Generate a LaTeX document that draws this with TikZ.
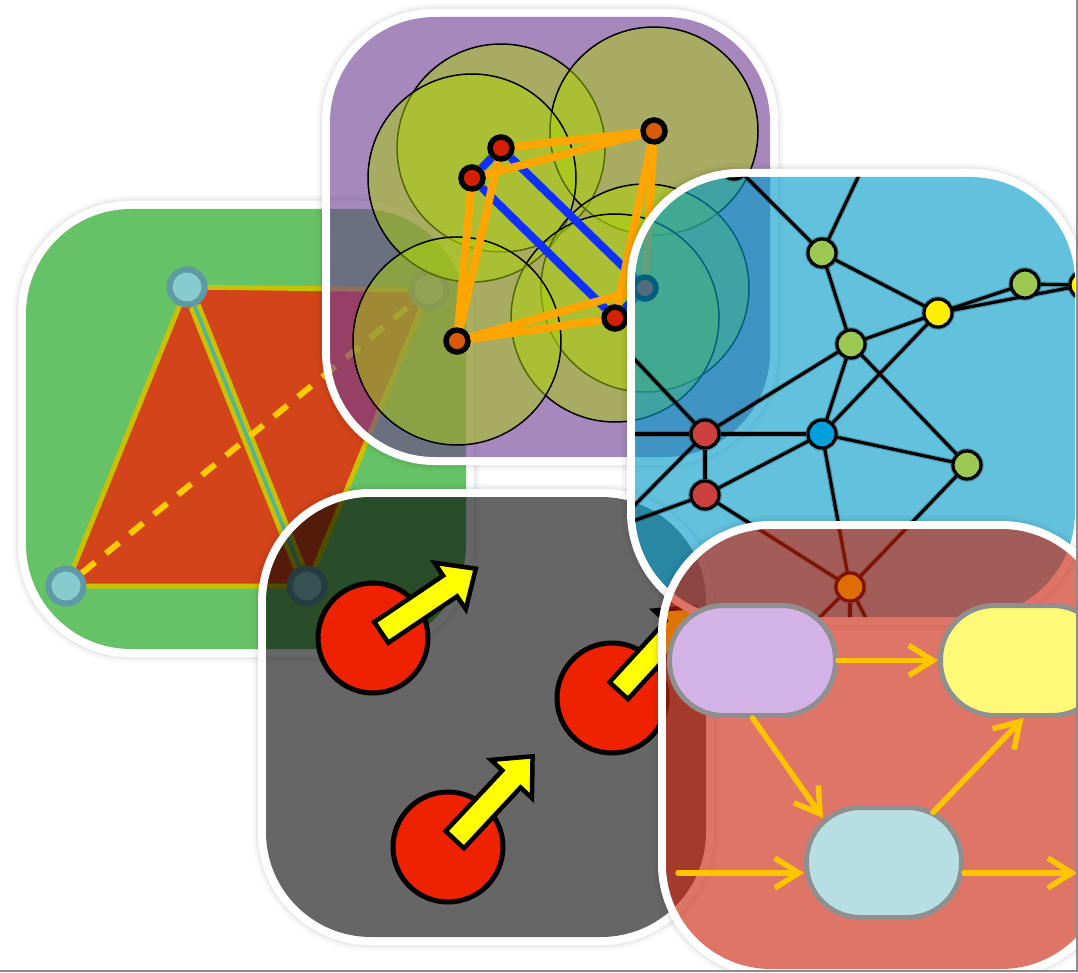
\documentclass[tikz,border=0pt]{standalone}
\usetikzlibrary{arrows.meta,calc}
\definecolor{gfill}{RGB}{102,194,102}
\definecolor{gpoly}{RGB}{212,68,26}
\definecolor{gpolyline}{RGB}{200,192,0}
\definecolor{gdash}{RGB}{255,204,0}
\definecolor{gnodefill}{RGB}{135,203,207}
\definecolor{gnodeborder}{RGB}{94,154,164}
\definecolor{gteal}{RGB}{79,181,154}
\definecolor{pfill}{RGB}{111,63,147}
\definecolor{pcirc}{RGB}{172,210,8}
\definecolor{pred}{RGB}{212,32,0}
\definecolor{porange}{RGB}{217,90,10}
\definecolor{pblue}{RGB}{16,48,255}
\definecolor{pedge}{RGB}{255,165,0}
\definecolor{bfill}{RGB}{2,156,202}
\definecolor{vgreen}{RGB}{155,200,80}
\definecolor{vyellow}{RGB}{255,238,0}
\definecolor{vred}{RGB}{204,64,64}
\definecolor{vblue}{RGB}{0,160,220}
\definecolor{rfill}{RGB}{203,32,8}
\definecolor{stP}{RGB}{211,179,230}
\definecolor{stY}{RGB}{255,249,120}
\definecolor{stC}{RGB}{183,223,227}
\definecolor{stborder}{RGB}{143,143,143}
\definecolor{flowcol}{RGB}{255,198,0}
\definecolor{ballred}{RGB}{238,34,0}
\definecolor{arrowyellow}{RGB}{255,255,0}
\definecolor{framecol}{RGB}{140,140,140}

\newcommand\tileback[5]{%
  \draw[black, opacity=0.02, line width=2pt, rounded corners=118pt] (#1-13,#2-13) rectangle (#3+13,#4+13);
  \draw[black, opacity=0.04, line width=2pt, rounded corners=116pt] (#1-11,#2-11) rectangle (#3+11,#4+11);
  \draw[black, opacity=0.08, line width=2pt, rounded corners=114pt] (#1-9,#2-9) rectangle (#3+9,#4+9);
  \draw[white, line width=8pt, rounded corners=109pt] (#1-4,#2-4) rectangle (#3+4,#4+4);
  \fill[#5, rounded corners=105pt] (#1,#2) rectangle (#3,#4);
}
\newcommand\tileclip[4]{\clip[rounded corners=105pt] (#1,#2) rectangle (#3,#4);}
\newcommand\blockarrow[3]{%
  \begin{scope}[shift={(#1,#2)}, rotate=#3]
    \draw[blockarr] (10,-12.5) -- (93,-12.5) -- (93,-28) -- (124,0) -- (93,28) -- (93,12.5) -- (10,12.5) -- cycle;
  \end{scope}}

\begin{document}
\begin{tikzpicture}[x=1pt, y=-1pt,
  gnode/.style={circle, minimum size=35pt, inner sep=0pt, fill=gnodefill, draw=gnodeborder, line width=6pt},
  pnode/.style={circle, minimum size=22pt, inner sep=0pt, draw=black, line width=5.5pt},
  pcircle/.style={fill=pcirc, fill opacity=0.5, draw=black, line width=1.5pt},
  bedge/.style={draw=pblue, line width=8pt},
  oedge/.style={draw=pedge, line width=8pt},
  vnode/.style={circle, minimum size=28pt, inner sep=0pt, draw=black, line width=3.2pt,
    preaction={draw=black, draw opacity=0.25, line width=5.5pt}},
  gedge/.style={draw=black, line width=3.2pt,
    preaction={draw=black, draw opacity=0.2, line width=5.5pt}},
  ball/.style={circle, minimum size=110pt, inner sep=0pt, fill=ballred, draw=black, line width=5pt},
  blockarr/.style={fill=arrowyellow, draw=black, line width=4.5pt, line join=miter},
  stbox/.style={rectangle, rounded corners=54pt, minimum height=110pt, inner sep=0pt, draw=stborder, line width=5pt},
  flow/.style={draw=flowcol, line width=5.5pt, line cap=round, -{Straight Barb[length=24pt,width=30pt]}}
]
\useasboundingbox (0,0) rectangle (1078,973);
\begin{scope}
\clip (0,0) rectangle (1077,971);

% ---------------- green tile ----------------
\tileback{26}{209}{466}{649}{gfill}
\begin{scope}
  \tileclip{26}{209}{466}{649}
  \coordinate (gpa) at (187,287);
  \coordinate (gpb) at (66,586);
  \coordinate (gpc) at (307,586);
  \coordinate (gpd) at (429,290);
  \filldraw[fill=gpoly, draw=gpolyline, line width=5pt, line join=round] (gpb) -- (gpa) -- (gpd) -- (gpc) -- cycle;
  \node[gnode] (ga) at (gpa) {};
  \node[gnode] (gb) at (gpb) {};
  \node[gnode] (gc) at (gpc) {};
  \node[gnode] (gd) at (gpd) {};
  \draw[gpolyline, line width=4.5pt, double=gteal, double distance=3.5pt] (ga) -- (gc);
  \draw[gdash, line width=6pt, dash pattern=on 17pt off 14pt] (gb) -- (gd);
\end{scope}

% ---------------- purple tile ----------------
\tileback{330}{17}{770}{457}{pfill, fill opacity=0.62}
\begin{scope}
  \tileclip{330}{17}{770}{457}
  \coordinate (pc1) at (501,148);
  \coordinate (pc2) at (472,178);
  \coordinate (pc3) at (654,131);
  \coordinate (pc4) at (457,341);
  \coordinate (pc5) at (615,318);
  \coordinate (pc6) at (645,288);
  \filldraw[pcircle] (pc1) circle (104pt);
  \filldraw[pcircle] (pc3) circle (104pt);
  \filldraw[pcircle] (pc2) circle (104pt);
  \filldraw[pcircle] (pc6) circle (104pt);
  \filldraw[pcircle] (pc5) circle (104pt);
  \filldraw[pcircle] (pc4) circle (104pt);
  \node[pnode, fill=pred] (pn1) at (pc1) {};
  \node[pnode, fill=pred] (pn2) at (pc2) {};
  \node[pnode, fill=porange] (pn3) at (pc3) {};
  \node[pnode, fill=porange] (pn4) at (pc4) {};
  \node[pnode, fill=pred] (pn5) at (pc5) {};
  \node[pnode, fill=pred] (pn6) at (pc6) {};
  \draw[bedge] (pn1) -- (pn2);
  \draw[bedge] (pn1) -- (pn6);
  \draw[bedge] (pn2) -- (pn5);
  \draw[bedge] (pn5) -- (pn6);
  \draw[oedge] (pn1) -- (pn3);
  \draw[oedge] (pn2) -- (pn3);
  \draw[oedge] (pn1) -- (pn4);
  \draw[oedge] (pn2) -- (pn4);
  \draw[oedge] (pn3) -- (pn5);
  \draw[oedge] (pn3) -- (pn6);
  \draw[oedge] (pn4) -- (pn5);
  \draw[oedge] (pn4) -- (pn6);
\end{scope}

% ---------------- gray tile ----------------
\tileback{266}{497}{706}{937}{black, fill opacity=0.6}
\begin{scope}
  \tileclip{266}{497}{706}{937}
  \node[ball] (ball1) at (373,638) {};
  \node[ball] (ball2) at (612,698) {};
  \node[ball] (ball3) at (448,847) {};
  \blockarrow{373}{638}{34}
  \blockarrow{612}{698}{47.5}
  \blockarrow{448}{847}{47}
\end{scope}

% ---------------- blue tile ----------------
\tileback{635}{177}{1075}{617}{bfill, fill opacity=0.62}
\begin{scope}
  \tileclip{635}{177}{1075}{617}
  \coordinate (u1) at (880,131);
  \coordinate (l1) at (600,434);
  \coordinate (l2) at (590,312);
  \coordinate (l3) at (600,540);
  \coordinate (l4) at (600,533);
  \coordinate (d1) at (800,637);
  \coordinate (d2) at (850,640);
  \coordinate (d3) at (877,640);
  \node[vnode, fill=vgreen] (vg1) at (822,253) {};
  \node[vnode, fill=vyellow] (vy1) at (938,313) {};
  \node[vnode, fill=vyellow] (vy2) at (1084,285) {};
  \node[vnode, fill=vgreen] (vg3) at (851,344) {};
  \node[vnode, fill=vred] (vr1) at (705,434) {};
  \node[vnode, fill=vblue] (vb1) at (822,434) {};
  \node[vnode, fill=vgreen] (vg4) at (967,465) {};
  \node[vnode, fill=vred] (vr2) at (705,495) {};
  \node[vnode, fill=vyellow] (vo1) at (850,587) {};
  \node[vnode, fill=vgreen] (vgt) at (734,165) {};
  \draw[gedge] (vy1) -- (vy2);
  \node[vnode, fill=vgreen] (vg2) at (1025,284) {};
  \draw[gedge] (vg1) -- (u1);
  \draw[gedge] (vg1) -- (vgt);
  \draw[gedge] (vg1) -- (vy1);
  \draw[gedge] (vg1) -- (vg3);
  \draw[gedge] (vy1) -- (vg3);
  \draw[gedge] (vy1) -- (vg2);
  \draw[gedge] (vg2) -- (vy2);
  \draw[gedge] (vy1) -- (vb1);
  \draw[gedge] (vg3) -- (vr1);
  \draw[gedge] (vg3) -- (vb1);
  \draw[gedge] (vg3) -- (vg4);
  \draw[gedge] (vr1) -- (vb1);
  \draw[gedge] (vr1) -- (l1);
  \draw[gedge] (vr1) -- (l2);
  \draw[gedge] (vr1) -- (vr2);
  \draw[gedge] (vr1) -- (l3);
  \draw[gedge] (vr2) -- (l4);
  \draw[gedge] (vr2) -- (vb1);
  \draw[gedge] (vr2) -- (vo1);
  \draw[gedge] (vb1) -- (vg4);
  \draw[gedge] (vb1) -- (vo1);
  \draw[gedge] (vg4) -- (vo1);
  \draw[gedge] (vo1) -- (d1);
  \draw[gedge] (vo1) -- (d2);
  \draw[gedge] (vo1) -- (d3);
\end{scope}

% ---------------- red tile ----------------
\tileback{666}{529}{1106}{969}{rfill, fill opacity=0.62}
\begin{scope}
  \tileclip{666}{529}{1106}{969}
  \node[stbox, fill=stP, minimum width=166pt] (sp) at (752.5,660.5) {};
  \node[stbox, fill=stY, minimum width=166pt] (sy) at (1023.5,660.5) {};
  \node[stbox, fill=stC, minimum width=155pt] (sc) at (884,862.5) {};
  \coordinate (cin) at (678,873);
  \coordinate (cout) at (1077,873);
  \draw[flow] (sp) -- (sy);
  \draw[flow] (sp.south) -- ([shift={(-61pt,44.5pt)}]sc.center);
  \draw[flow] ([shift={(49pt,50pt)}]sc.center) -- (sy.south);
  \draw[flow] (cin) -- (cin -| sc.west);
  \draw[flow] (sc.east |- cout) -- (cout);
\end{scope}

\end{scope}
\draw[framecol, line width=1.3pt] (1077,0) -- (1077,971) -- (0,971);
\end{tikzpicture}
\end{document}
